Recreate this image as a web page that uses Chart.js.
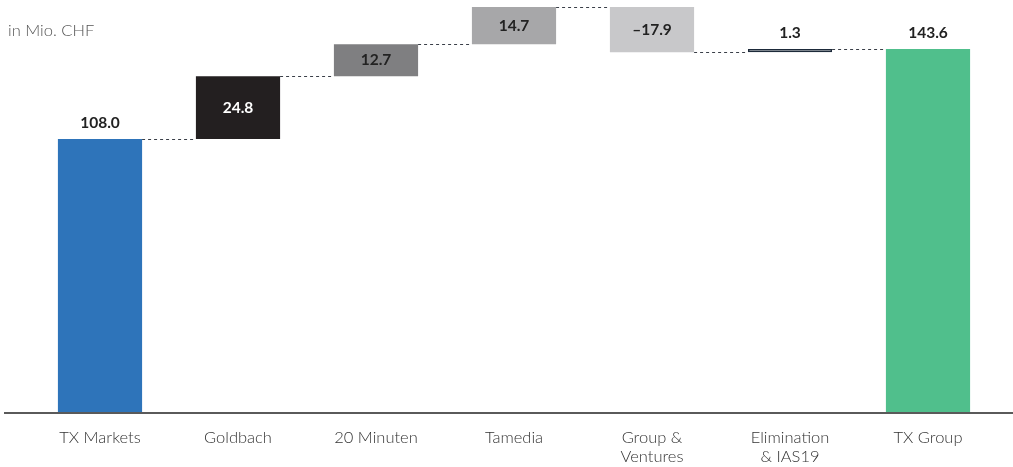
<!DOCTYPE html>
<html>
<head>
<meta charset="utf-8">
<script src="https://cdn.jsdelivr.net/npm/chart.js@4.4.1/dist/chart.umd.min.js"></script>
<style>
  html, body { margin: 0; padding: 0; background: #fff; }
  #wrap { position: relative; width: 1013px; height: 467px; }
  #unit { position: absolute; left: 8px; top: 20px; font: 300 16.5px Lato, "Open Sans", sans-serif; color: #555; }
</style>
</head>
<body>
<div id="wrap">
  <div id="unit">in Mio. CHF</div>
  <canvas id="chart" width="1013" height="467"></canvas>
</div>
<script>
// Waterfall data (Mio. CHF)
const categories = ['TX Markets', 'Goldbach', '20 Minuten', 'Tamedia', ['Group &', 'Ventures'], ['Elimination', '& IAS19'], 'TX Group'];
const values = [108.0, 24.8, 12.7, 14.7, -17.9, 1.3, 143.6];
const valueLabels = ['108.0', '24.8', '12.7', '14.7', '\u201317.9', '1.3', '143.6'];
const isTotal = [true, false, false, false, false, false, true];

const fillColors = ['#2e74ba', '#231f20', '#7f7f81', '#a7a7a9', '#c8c8ca', '#ffffff', '#50bf8c'];
const borderColors = ['#2e74ba', '#231f20', '#7f7f81', '#a7a7a9', '#c8c8ca', '#1d2a3a', '#50bf8c'];
const labelColors = ['#222', '#fff', '#222', '#222', '#222', '#222', '#222'];

// build floating ranges from the values
let running = 0;
const ranges = values.map((v, i) => {
  if (isTotal[i]) { running = v; return [0, v]; }
  const start = running;
  running = Math.round((running + v) * 10) / 10;
  return [start, running];
});

const waterfallExtras = {
  id: 'waterfallExtras',
  afterDatasetsDraw(chart) {
    const ctx = chart.ctx;
    const meta = chart.getDatasetMeta(0);
    const y = chart.scales.y;
    const area = chart.chartArea;
    ctx.save();

    // dotted connectors
    ctx.strokeStyle = '#3a3f48';
    ctx.lineWidth = 1;
    ctx.setLineDash([3, 3]);
    for (let i = 0; i < meta.data.length - 1; i++) {
      const a = meta.data[i], b = meta.data[i + 1];
      const py = Math.round(y.getPixelForValue(ranges[i][1])) + 0.5;
      ctx.beginPath();
      ctx.moveTo(a.x + a.width / 2, py);
      ctx.lineTo(b.x - b.width / 2, py);
      ctx.stroke();
    }
    ctx.setLineDash([]);

    // baseline
    ctx.strokeStyle = '#5a5a5a';
    ctx.lineWidth = 2;
    ctx.beginPath();
    ctx.moveTo(4, area.bottom + 1);
    ctx.lineTo(chart.width, area.bottom + 1);
    ctx.stroke();

    // value labels
    ctx.font = 'bold 15.5px Lato, "Open Sans", sans-serif';
    ctx.textAlign = 'center';
    ctx.textBaseline = 'middle';
    meta.data.forEach((bar, i) => {
      const top = y.getPixelForValue(Math.max(ranges[i][0], ranges[i][1]));
      const bot = y.getPixelForValue(Math.min(ranges[i][0], ranges[i][1]));
      let ly;
      if (isTotal[i] || Math.abs(values[i]) < 5) ly = top - 16;
      else ly = (top + bot) / 2;
      ctx.fillStyle = labelColors[i];
      ctx.fillText(valueLabels[i], bar.x, ly);
    });
    ctx.restore();
  }
};

new Chart(document.getElementById('chart'), {
  type: 'bar',
  data: {
    labels: categories,
    datasets: [{
      data: ranges,
      backgroundColor: fillColors,
      borderColor: borderColors,
      borderWidth: values.map((v, i) => i === 5 ? 1.5 : 0),
      borderSkipped: false,
      barPercentage: 1,
      categoryPercentage: 0.61
    }]
  },
  options: {
    responsive: false,
    animation: false,
    layout: { padding: { left: 31, right: 16, top: 0, bottom: 0 } },
    plugins: { legend: { display: false }, tooltip: { enabled: false } },
    scales: {
      x: {
        grid: { display: false, drawTicks: false },
        border: { display: false },
        ticks: {
          color: '#333',
          font: { family: 'Lato, "Open Sans", sans-serif', size: 16.5, weight: 300, lineHeight: 1.15 },
          padding: 16,
          maxRotation: 0,
          autoSkip: false
        },
        afterFit(scale) { scale.height = 55; }
      },
      y: {
        display: false,
        min: 0,
        max: 163
      }
    }
  },
  plugins: [waterfallExtras]
});
</script>
</body>
</html>
